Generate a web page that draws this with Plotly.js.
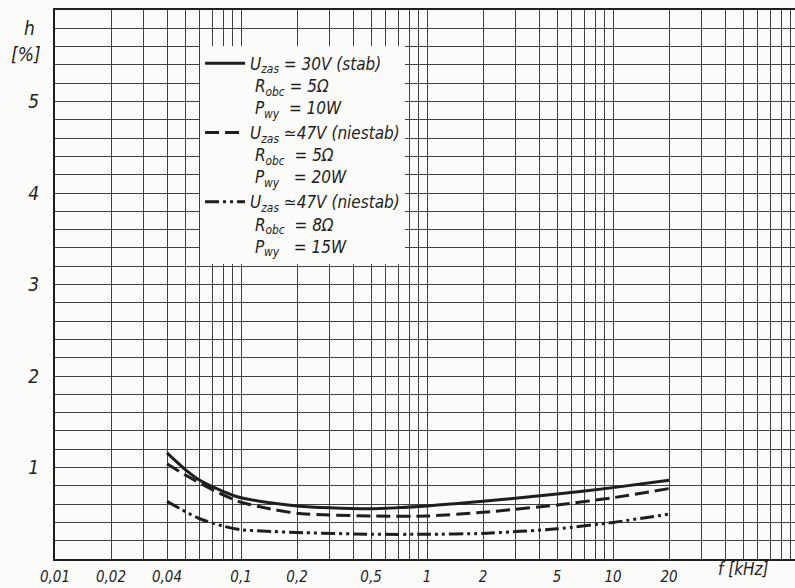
<!DOCTYPE html>
<html>
<head>
<meta charset="utf-8">
<script src="https://cdn.plot.ly/plotly-3.0.1.min.js"></script>
<style>html,body{margin:0;padding:0;background:#fbfbf9;}#chart{width:795px;height:588px;}</style>
</head>
<body>
<div id="chart"></div>
<script>
// Frequency (kHz) and distortion h (%)
const fStab = [0.04, 0.05, 0.06, 0.08, 0.1, 0.15, 0.2, 0.3, 0.5, 1, 2, 5, 10, 20];
const hStab = [1.16, 0.98, 0.86, 0.74, 0.67, 0.61, 0.58, 0.56, 0.55, 0.58, 0.63, 0.71, 0.78, 0.86];

const fNs5 = [0.04, 0.05, 0.06, 0.08, 0.1, 0.15, 0.2, 0.3, 0.5, 1, 2, 5, 10, 20];
const hNs5 = [1.04, 0.92, 0.83, 0.70, 0.62, 0.54, 0.50, 0.48, 0.47, 0.47, 0.51, 0.59, 0.67, 0.77];

const fNs8 = [0.04, 0.05, 0.06, 0.08, 0.1, 0.15, 0.2, 0.5, 1, 2, 5, 10, 20];
const hNs8 = [0.63, 0.52, 0.44, 0.36, 0.32, 0.30, 0.29, 0.27, 0.27, 0.28, 0.33, 0.40, 0.49];

const seriesNames = [
  "U<sub>zas</sub> = 30V (stab)<br> R<sub>obc</sub> = 5Ω<br> P<sub>wy</sub>  = 10W",
  "U<sub>zas</sub> ≃47V (niestab)<br> R<sub>obc</sub>  = 5Ω<br> P<sub>wy</sub>   = 20W",
  "U<sub>zas</sub> ≃47V (niestab)<br> R<sub>obc</sub>  = 8Ω<br> P<sub>wy</sub>   = 15W"
];

const xLabelVals = [0.01, 0.02, 0.04, 0.1, 0.2, 0.5, 1, 2, 5, 10, 20];
const xLabelText = ["0,01", "0,02", "0,04", "0,1", "0,2", "0,5", "1", "2", "5", "10", "20"];
const yLabelVals = [1, 2, 3, 4, 5];
const yLabelText = ["1", "2", "3", "4", "5"];

// grid positions (log paper 1..9 per decade, y every 0.2)
const xGrid = [], xGridText = [];
[0.01, 0.1, 1, 10].forEach(d => {
  for (let m = 1; m <= 9; m++) {
    const v = +(d * m).toPrecision(3);
    xGrid.push(v);
    const i = xLabelVals.indexOf(v);
    xGridText.push(i >= 0 ? xLabelText[i] : "");
  }
});
const yGrid = [], yGridText = [];
for (let k = 0; k <= 30; k++) {
  const v = +(k * 0.2).toFixed(1);
  yGrid.push(v);
  const i = yLabelVals.indexOf(v);
  yGridText.push(i >= 0 ? yLabelText[i] : "");
}

const ink = "#1e1e1e";
const fontFam = "DejaVu Sans Condensed, DejaVu Sans, sans-serif";

const traces = [
  {x: fStab, y: hStab, name: seriesNames[0], mode: "lines",
   line: {color: ink, width: 3, shape: "spline", smoothing: 0.6}},
  {x: fNs5, y: hNs5, name: seriesNames[1], mode: "lines",
   line: {color: ink, width: 3, dash: "14px,6px", shape: "spline", smoothing: 0.6}},
  {x: fNs8, y: hNs8, name: seriesNames[2], mode: "lines",
   line: {color: ink, width: 3, dash: "14px,4px,3px,4px,3px,4px", shape: "spline", smoothing: 0.6}}
];

const layout = {
  width: 795, height: 588,
  margin: {l: 55, r: 0, t: 10, b: 29},
  paper_bgcolor: "#fbfbf9",
  plot_bgcolor: "#fbfbf9",
  font: {family: fontFam, color: ink, size: 14, style: "italic"},
  showlegend: true,
  legend: {
    x: 0.196, y: 0.935, xanchor: "left", yanchor: "top",
    bgcolor: "#fbfbf9", borderwidth: 0, valign: "top",
    font: {family: fontFam, size: 17, color: ink, style: "italic"},
    itemwidth: 40, tracegroupgap: 0
  },
  xaxis: {
    type: "log", range: [-2, 1.978],
    tickmode: "array", tickvals: xGrid, ticktext: xGridText,
    showgrid: true, gridcolor: "#404040", gridwidth: 1,
    showline: true, linecolor: ink, linewidth: 2, mirror: true,
    ticks: "outside", ticklen: 3, tickcolor: "rgba(0,0,0,0)",
    tickfont: {family: fontFam, size: 15, color: ink, style: "italic"},
    zeroline: false, fixedrange: true
  },
  yaxis: {
    range: [0, 6],
    tickmode: "array", tickvals: yGrid, ticktext: yGridText,
    showgrid: true, gridcolor: "#404040", gridwidth: 1,
    showline: true, linecolor: ink, linewidth: 2, mirror: true,
    ticks: "outside", ticklen: 10, tickcolor: "rgba(0,0,0,0)",
    tickfont: {family: fontFam, size: 19, color: ink, style: "italic"},
    zeroline: false, fixedrange: true
  },
  annotations: [
    {text: "h", xref: "paper", yref: "paper", x: -0.035, y: 0.967, xanchor: "center", yanchor: "middle",
     showarrow: false, font: {family: fontFam, size: 19, color: ink, style: "italic"}},
    {text: "[%]", xref: "paper", yref: "paper", x: -0.039, y: 0.920, xanchor: "center", yanchor: "middle",
     showarrow: false, font: {family: fontFam, size: 19, color: ink, style: "italic"}},
    {text: "f [kHz]", xref: "x", yref: "paper", x: Math.log10(50), y: -0.018, xanchor: "center", yanchor: "middle",
     showarrow: false, font: {family: fontFam, size: 17, color: ink, style: "italic"}}
  ]
};

Plotly.newPlot("chart", traces, layout, {displayModeBar: false, staticPlot: true});
</script>
</body>
</html>
